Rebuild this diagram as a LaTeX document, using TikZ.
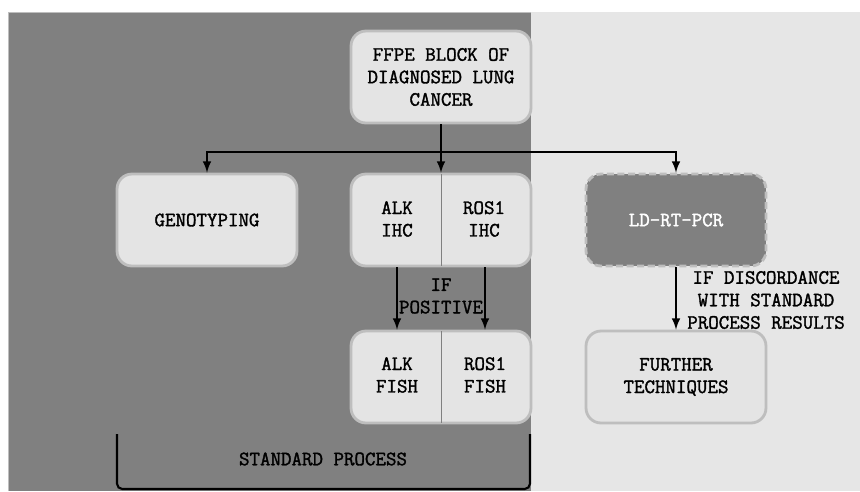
\documentclass[tikz,border=0pt]{standalone}
\usepackage{fontspec}
\setmonofont{Latin Modern Mono}[FakeBold=1.6]
\usepackage{xcolor}
\definecolor{darkbg}{HTML}{808080}
\definecolor{lightbg}{HTML}{E6E6E6}
\definecolor{boxfill}{HTML}{E4E4E4}
\definecolor{boxline}{HTML}{BEBEBE}
\usepackage{tikz}

\tikzset{
  txt/.style={align=center, font=\ttfamily\fontsize{11.6}{12.8}\selectfont},
  stepbox/.style={txt, draw=boxline, fill=boxfill, line width=1.6pt,
    rounded corners=0.3cm, minimum width=3.6cm, minimum height=1.84cm},
}

\begin{document}
\begin{tikzpicture}[x=0.02cm, y=-0.02cm, >=latex, line width=1.2pt]
            \useasboundingbox (0,0) rectangle (860,491);

            % the two halves of the background
            \fill[darkbg] (8,12) rectangle (531,491);
            \draw[boxline, line width=0.5pt] (8,491) -- (8,12) -- (531,12);
            \fill[lightbg] (531,12) rectangle (860,491);

            \node[stepbox] (ffpe) at (441,77) {FFPE BLOCK OF\\DIAGNOSED LUNG\\CANCER};
            \node[stepbox] (geno) at (207,220) {GENOTYPING};
            \node[stepbox] (ihc) at (441,220) {};
            \node[stepbox] (fish) at (441,377) {};
            \node[stepbox, fill=darkbg, text=white, dash pattern=on 4pt off 2pt] (pcr) at (676,220) {LD-RT-PCR};
            \node[stepbox] (further) at (676,377) {FURTHER\\TECHNIQUES};

            % split boxes
            \draw[gray, line width=0.5pt, shorten >=0.8pt, shorten <=0.8pt] (ihc.north) -- (ihc.south);
            \draw[gray, line width=0.5pt, shorten >=0.8pt, shorten <=0.8pt] (fish.north) -- (fish.south);

            \node[txt] (alkihc) at (397,219) {ALK\\IHC};
            \node[txt] (rosihc) at (484,219) {ROS1\\IHC};
            \node[txt] (alkfish) at (397,375) {ALK\\FISH};
            \node[txt] (rosfish) at (485,375) {ROS1\\FISH};

            \draw[->] (ffpe.south) -- (ihc.north);
            \draw[->] (ffpe.south) -- ++(0,28) -| (geno.north);
            \draw[->] (ffpe.south) -- ++(0,28) -| (pcr.north);

            \draw[->] (alkihc |- ihc.south) -- (alkihc |- fish.north);
            \draw[->] (rosfish |- ihc.south) -- (rosfish |- fish.north);
            \node[txt] (ifpos) at (441,296) {IF\\POSITIVE};

            \draw[->] (pcr) -- (further);
            \node[txt] (discord) at (766,300) {IF DISCORDANCE\\WITH STANDARD\\PROCESS RESULTS};

            % bracket under the standard process
            \draw[rounded corners=3pt] (117,434) -- (117,489) -- (530,489) -- (530,434);
            \node[txt] (standard) at (323,459) {STANDARD PROCESS};
        \end{tikzpicture}
\end{document}
